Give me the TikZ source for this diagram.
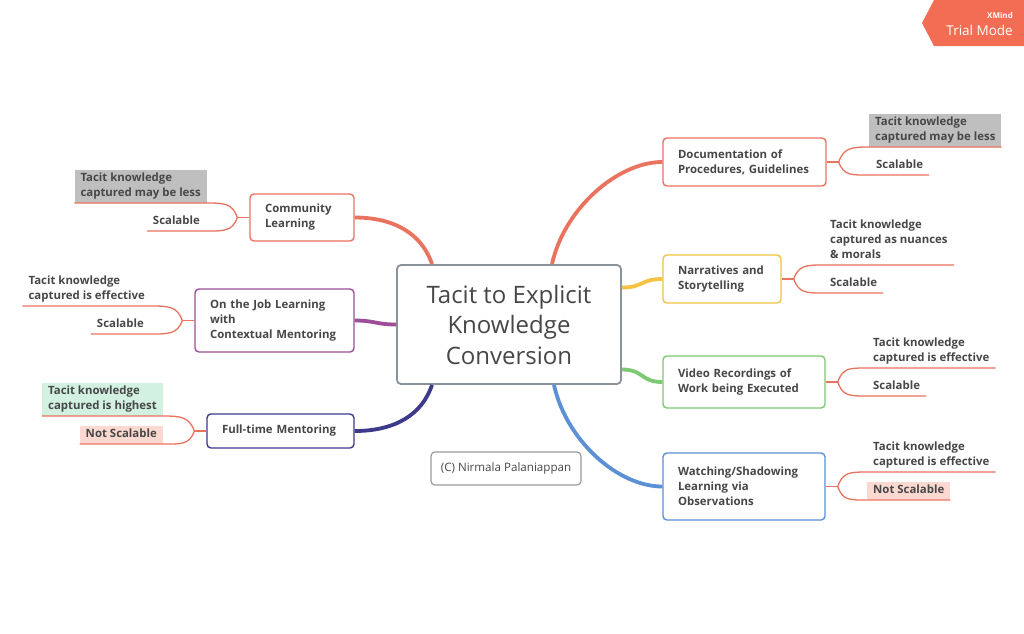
\documentclass[tikz,border=0pt]{standalone}
\usepackage{fontspec}
\setmainfont{Open Sans}
\usetikzlibrary{calc}
\definecolor{sal}{HTML}{E9735E}
\definecolor{yel}{HTML}{F5C243}
\definecolor{grn}{HTML}{7DC872}
\definecolor{blu}{HTML}{5B90D5}
\definecolor{pur}{HTML}{9E4D98}
\definecolor{ind}{HTML}{3D3A8C}
\definecolor{cgray}{HTML}{8A929B}
\definecolor{txt}{HTML}{474747}
\definecolor{lgray}{HTML}{BFBFBF}
\definecolor{pinkbg}{HTML}{FBD8D0}
\definecolor{greenbg}{HTML}{D2F1E1}
\definecolor{badge}{HTML}{F36D54}
\definecolor{copyb}{HTML}{9A9A9A}
\begin{document}
\begin{tikzpicture}[x=1pt,y=-1pt,
  box/.style={draw, rounded corners=4pt, line width=1.4pt, fill=white, align=left,
    font=\bfseries\fontsize{11.4}{15}\selectfont, text=txt, inner xsep=15pt, inner ysep=0pt},
  lbl/.style={align=left, font=\bfseries\fontsize{11.4}{15}\selectfont, text=txt,
    inner xsep=6pt, inner ysep=3pt, text depth=3pt},
  main/.style={line width=3.8pt, line cap=butt},
  sub/.style={line width=1.3pt, draw=sal},
]
\useasboundingbox[fill=white] (0,0) rectangle (1024,633);

% badge
\fill[badge] (934,0) -- (922,23) -- (934,46) -- (1024,46) -- (1024,0) -- cycle;
\node[anchor=east, font=\bfseries\fontsize{8}{8}\selectfont, text=white, inner sep=0] (xm) at (1013,15) {XMind};
\node[anchor=east, font=\fontsize{13.5}{14}\selectfont, text=white, inner sep=0] (tm) at (1013,30) {Trial Mode};

% central
\node[draw=cgray, rounded corners=4pt, line width=1.8pt, minimum width=224pt, minimum height=119pt,
  align=center, font=\fontsize{24}{30.5}\selectfont, text=txt, inner sep=0, fill=white] (center) at (509,324.5)
  {Tacit to Explicit\\Knowledge\\Conversion};

% branch boxes
\node[box, draw=sal, text width=133pt, minimum height=48pt] (doc) at (744.5,162) {Documentation of\\Procedures, Guidelines};
\node[box, draw=yel, text width=88pt, minimum height=48pt] (nar) at (722,279) {Narratives and\\Storytelling};
\node[box, draw=grn, text width=132pt, minimum height=52pt] (vid) at (744,382) {Video Recordings of\\Work being Executed};
\node[box, draw=blu, text width=132pt, minimum height=67pt] (wat) at (744,486.5) {Watching/Shadowing\\Learning via\\Observations};
\node[box, draw=sal, text width=74pt, minimum height=47pt] (com) at (302,217.5) {Community\\Learning};
\node[box, draw=pur, text width=129pt, minimum height=63pt] (job) at (274.5,320.5) {On the Job Learning\\with\\Contextual Mentoring};
\node[box, draw=ind, text width=117pt, minimum height=34pt] (ful) at (280.5,431) {Full-time Mentoring};

\node[draw=copyb, rounded corners=4pt, line width=1.2pt, minimum width=150pt, minimum height=33pt,
  font=\fontsize{11.6}{13}\selectfont, text=txt, inner sep=0] (copy) at (506,468.5) {(C) Nirmala Palaniappan};

% main connectors
\draw[main, sal] ([xshift=43pt]center.north) .. controls +(12,-55) and +(-45,0) .. (doc.west);
\draw[main, yel] ([yshift=37pt]center.east) .. controls +(22,0) and +(-22,0) .. (nar.west);
\draw[main, grn] ([yshift=-45pt]center.east) .. controls +(22,0) and +(-22,0) .. (vid.west);
\draw[main, blu] ([xshift=45pt]center.south) .. controls +(12,55) and +(-45,0) .. (wat.west);
\draw[main, sal] ([xshift=-77pt]center.north) .. controls +(-10,-30) and +(40,0) .. (com.east);
\draw[main, pur] (center.west) .. controls +(-20,0) and +(20,0) .. (job.east);
\draw[main, ind] ([xshift=-77pt]center.south) .. controls +(-10,30) and +(40,0) .. (ful.east);

% labels right
\node[lbl, fill=lgray, anchor=south west] (docA) at (869,147) {Tacit knowledge\\captured may be less};
\node[lbl, anchor=south west] (docB) at (870,175) {Scalable};
\node[lbl, anchor=south west] (narA) at (824,265) {Tacit knowledge\\captured as nuances\\\& morals};
\node[lbl, anchor=south west] (narB) at (824,293) {Scalable};
\node[lbl, anchor=south west] (vidA) at (867,368) {Tacit knowledge\\captured is effective};
\node[lbl, anchor=south west] (vidB) at (867,396) {Scalable};
\node[lbl, anchor=south west] (watA) at (867,472) {Tacit knowledge\\captured is effective};
\node[lbl, fill=pinkbg, anchor=south west] (watB) at (867,500) {Not Scalable};
% labels left
\node[lbl, fill=lgray, anchor=south east] (comA) at (207,203) {Tacit knowledge\\captured may be less};
\node[lbl, anchor=south east] (comB) at (206,231) {Scalable};
\node[lbl, anchor=south east] (jobA) at (151,306) {Tacit knowledge\\captured is effective};
\node[lbl, anchor=south east] (jobB) at (150,334) {Scalable};
\node[lbl, fill=greenbg, anchor=south east] (fulA) at (163,416) {Tacit knowledge\\captured is highest};
\node[lbl, fill=pinkbg, anchor=south east] (fulB) at (163,444) {Not Scalable};

% forks right
\foreach \b in {doc,nar,vid,wat}{
  \coordinate (\b F) at ($(\b.east)+(12,0)$);
  \draw[sub] (\b.east) -- (\b F);
  \draw[sub] (\b F) .. controls +(5,-14) and +(-18,0) .. (\b A.south west) -- (\b A.south east);
  \draw[sub] (\b F) .. controls +(5,14) and +(-18,0) .. (\b B.south west) -- (\b B.south east);
}
% forks left
\foreach \b in {com,job,ful}{
  \coordinate (\b F) at ($(\b.west)+(-12,0)$);
  \draw[sub] (\b.west) -- (\b F);
  \draw[sub] (\b F) .. controls +(-5,-14) and +(18,0) .. (\b A.south east) -- (\b A.south west);
  \draw[sub] (\b F) .. controls +(-5,14) and +(18,0) .. (\b B.south east) -- (\b B.south west);
}
\end{tikzpicture}
\end{document}
